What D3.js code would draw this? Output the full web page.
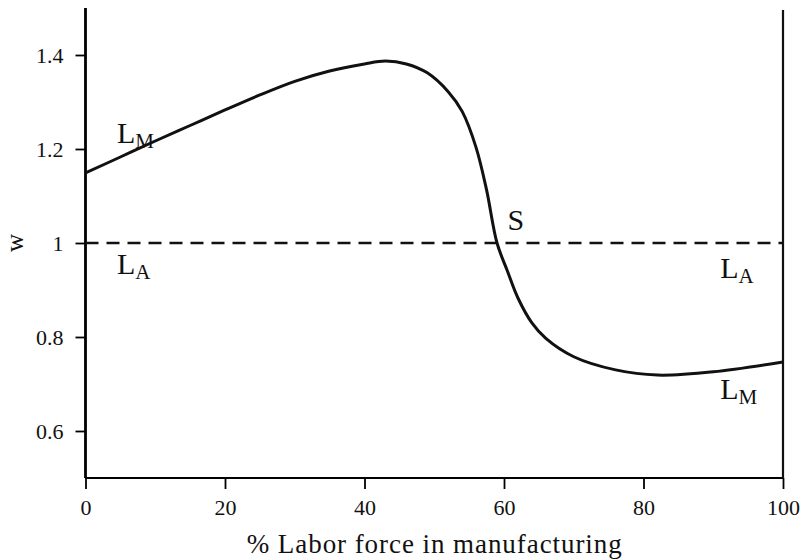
<!DOCTYPE html>
<html>
<head>
<meta charset="utf-8">
<script src="https://cdn.jsdelivr.net/npm/d3@7"></script>
<style>
  body { margin: 0; background: #fff; }
  svg text { font-family: "Liberation Serif", "DejaVu Serif", serif; fill: #111; }
</style>
</head>
<body>
<div id="chart"></div>
<script>
// share of labour force in manufacturing (%)
const laborShare = [0, 5, 10, 15, 20, 25, 30, 35, 40, 43, 46, 49, 52, 54, 56, 57.5, 59, 60.5, 62, 64, 66, 70, 76, 82, 90, 100]
// manufacturing wage curve L_M
const wageM = [1.149, 1.183, 1.217, 1.25, 1.283, 1.315, 1.344, 1.366, 1.381, 1.387, 1.381, 1.362, 1.322, 1.28, 1.203, 1.113, 1.0, 0.94, 0.883, 0.83, 0.797, 0.758, 0.73, 0.719, 0.726, 0.747]
// agricultural wage L_A
const wageA = 1
const xTicks = [0, 20, 40, 60, 80, 100]
const yTicks = [0.6, 0.8, 1, 1.2, 1.4]

const width = 806
const height = 560
const margin = { top: 8, right: 23, bottom: 82, left: 85.5 }

const svg = d3.select('#chart').append('svg')
  .attr('width', width)
  .attr('height', height)

const x = d3.scaleLinear().domain([0, 100]).range([margin.left, width - margin.right])
const y = d3.scaleLinear().domain([0.5, 1.5]).range([height - margin.bottom, margin.top])

// axes
const xAxis = svg.append('g')
  .attr('transform', `translate(0,${y(0.5)})`)
  .call(d3.axisBottom(x).tickValues(xTicks).tickSize(11).tickPadding(10).tickFormat(d3.format('d')))
xAxis.select('.domain').attr('stroke-width', 2.2).attr('d', `M${x(0)},0H${x(100)}`)
xAxis.selectAll('.tick line').attr('stroke-width', 1.8)
xAxis.selectAll('.tick text').attr('font-size', 22).attr('fill', '#111')

const yAxis = svg.append('g')
  .attr('transform', `translate(${x(0)},0)`)
  .call(d3.axisLeft(y).tickValues(yTicks).tickSize(10).tickPadding(12)
    .tickFormat(d => d === 1 ? '1' : d3.format('.1f')(d)))
yAxis.select('.domain').attr('stroke-width', 2.8).attr('d', `M0,${y(1.5)}V${y(0.5)}`)
yAxis.selectAll('.tick line').attr('stroke-width', 1.8)
yAxis.selectAll('.tick text').attr('font-size', 22).attr('fill', '#111')

// right border
svg.append('line')
  .attr('x1', x(100)).attr('x2', x(100))
  .attr('y1', y(1.5) + 2).attr('y2', y(0.5))
  .attr('stroke', '#111')
  .attr('stroke-width', 2.2)

// L_A dashed line
svg.append('line')
  .attr('x1', x(0)).attr('x2', x(100))
  .attr('y1', y(wageA)).attr('y2', y(wageA))
  .attr('stroke', '#111')
  .attr('stroke-width', 2.6)
  .attr('stroke-dasharray', '13,8')

// L_M curve
const line = d3.line()
  .x(d => x(d[0]))
  .y(d => y(d[1]))
  .curve(d3.curveCatmullRom.alpha(0.5))
svg.append('path')
  .datum(d3.zip(laborShare, wageM))
  .attr('d', line)
  .attr('fill', 'none')
  .attr('stroke', '#111')
  .attr('stroke-width', 3)

// labels
function label(xv, yv, main, sub) {
  const t = svg.append('text')
    .attr('x', x(xv))
    .attr('y', y(yv))
    .attr('font-size', 30)
  t.append('tspan').text(main)
  if (sub) {
    t.append('tspan').attr('font-size', 21).attr('dy', 5).text(sub)
  }
}
label(4.5, 1.213, 'L', 'M')
label(4.5, 0.935, 'L', 'A')
label(91, 0.925, 'L', 'A')
label(91, 0.668, 'L', 'M')
label(60.5, 1.027, 'S')

// axis titles
svg.append('text')
  .attr('x', (x(0) + x(100)) / 2)
  .attr('y', 553)
  .attr('text-anchor', 'middle')
  .attr('font-size', 27)
  .attr('textLength', 375)
  .text('% Labor force in manufacturing')

svg.append('text')
  .attr('transform', `translate(23,${y(1)}) rotate(-90)`)
  .attr('text-anchor', 'middle')
  .attr('font-size', 25)
  .text('w')
</script>
</body>
</html>
